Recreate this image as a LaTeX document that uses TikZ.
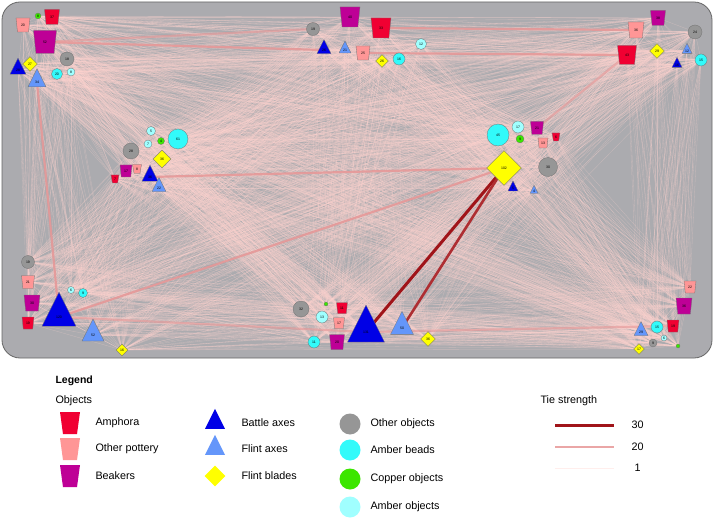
\documentclass[tikz,border=0pt]{standalone}
\usepackage{fontspec}
\setmainfont{Liberation Sans}
\usetikzlibrary{shapes.geometric}
\pgfdeclarelayer{panel}
\pgfdeclarelayer{ties}
\pgfsetlayers{panel,ties,main}

\definecolor{amphc}{RGB}{240,0,50}
\definecolor{potc}{RGB}{255,150,150}
\definecolor{beakc}{RGB}{190,0,150}
\definecolor{baxc}{RGB}{0,0,230}
\definecolor{faxc}{RGB}{100,150,250}
\definecolor{bladc}{RGB}{255,255,0}
\definecolor{othc}{RGB}{150,150,150}
\definecolor{beadc}{RGB}{50,250,250}
\definecolor{copc}{RGB}{60,230,0}
\definecolor{ambc}{RGB}{160,255,255}
\definecolor{panelc}{RGB}{171,171,175}
\definecolor{tiec}{RGB}{255,212,208}
\definecolor{midtie}{RGB}{230,150,150}
\definecolor{toptie}{RGB}{160,20,25}

\begin{document}
\begin{tikzpicture}[x=1pt, y=-1pt,
    obj/.style={draw=black!55, line width=0.3pt, inner sep=0pt, font=\fontsize{3.5}{4}\selectfont},
    vessel/.style={obj, trapezium, trapezium stretches=true, shape border rotate=180,
        trapezium angle=78, minimum width=#1, minimum height=#1},
    axe/.style={obj, isosceles triangle, isosceles triangle stretches, shape border rotate=90,
        minimum width=#1, minimum height=#1},
    amph/.style={vessel=#1, fill=amphc},
    opot/.style={vessel=#1, fill=potc},
    beak/.style={vessel=#1, fill=beakc},
    bax/.style={axe=#1, fill=baxc},
    fax/.style={axe=#1, fill=faxc},
    blade/.style={obj, diamond, fill=bladc, minimum width=#1, minimum height=#1},
    oth/.style={obj, circle, fill=othc, minimum size=#1},
    bead/.style={obj, circle, fill=beadc, minimum size=#1},
    copp/.style={obj, circle, fill=copc, minimum size=#1},
    amb/.style={obj, circle, fill=ambc, minimum size=#1},
    tie/.style={draw=tiec, line width=0.3pt, opacity=0.36},
    midtie/.style={draw=midtie, line width=2.2pt, opacity=0.85},
    toptie/.style={draw=toptie, line width=3pt},
    key/.style={draw=none, inner sep=1pt},
    lab/.style={anchor=west, font=\fontsize{10.8}{12}\selectfont}]

    \useasboundingbox (0,0) rectangle (714,521);

    % 1. Khung nen
    \begin{pgfonlayer}{panel}
        \draw[fill=panelc, draw=black!60, line width=0.8pt, rounded corners=18pt] (2,2) rectangle (712,358);
    \end{pgfonlayer}

    % 2. Cum tren trai
    \node[copp=6] (co1) at (38,16) {8};
    \node[opot=14] (op1) at (23,25) {20};
    \node[amph=15] (am1) at (52,17) {37};
    \node[beak=23] (bk1) at (45,42) {52};
    \node[oth=14] (oo1) at (67,59) {18};
    \node[blade=15] (fb1) at (30,64) {27};
    \node[bax=16] (ba1) at (18,70) {28};
    \node[fax=18] (fa1) at (37,82) {34};
    \node[bead=11] (ab1) at (57,74) {20};
    \node[amb=8] (ao1) at (71,72) {8};

    % Cum giua trai
    \node[amb=9] (ao2) at (151,131) {5};
    \node[amb=8] (ao3) at (148,144) {7};
    \node[copp=7] (co2) at (161,141) {4};
    \node[bead=20] (ab2) at (178,139) {61};
    \node[oth=16] (oo2) at (131,151) {28};
    \node[blade=18] (fb2) at (162,159) {36};
    \node[beak=12] (bk2) at (126,171) {17};
    \node[opot=9] (op2) at (137,169) {8};
    \node[amph=8] (am2) at (115,179) {7};
    \node[bax=16] (ba2) at (150,177) {36};
    \node[fax=14] (fa2) at (159,188) {22};

    % Cum tren giua
    \node[oth=13] (oo3) at (313,29) {19};
    \node[beak=20] (bk3) at (350,17) {40};
    \node[amph=20] (am3) at (381,28) {33};
    \node[bax=14] (ba3) at (324,50) {26};
    \node[fax=12] (fa3) at (345,50) {21};
    \node[opot=14] (op3) at (363,53) {25};
    \node[blade=13] (fb3) at (382,61) {26};
    \node[bead=12] (ab3) at (399,59) {16};
    \node[amb=11] (ao4) at (421,44) {12};

    % Cum tren phai
    \node[beak=15] (bk4) at (658,18) {38};
    \node[opot=16] (op4) at (636,30) {36};
    \node[amph=19] (am4) at (627,55) {43};
    \node[blade=15] (fb4) at (657,51) {29};
    \node[oth=14] (oo4) at (695,32) {24};
    \node[fax=10] (fa4) at (687,51) {12};
    \node[bax=10] (ba4) at (677,65) {16};
    \node[bead=12] (ab4) at (701,60) {15};

    % Cum giua phai
    \node[bead=22] (ab5) at (498,135) {45};
    \node[amb=12] (ao5) at (518,127) {17};
    \node[copp=8] (co3) at (520,139) {9};
    \node[beak=13] (bk5) at (537,128) {21};
    \node[opot=10] (op5) at (543,143) {13};
    \node[amph=8] (am5) at (556,137) {6};
    \node[blade=35] (fb5) at (504,168) {102};
    \node[oth=19] (oo5) at (548,167) {30};
    \node[bax=10] (ba5) at (513,188) {5};
    \node[fax=8] (fa5) at (534,191) {4};

    % Cum duoi trai
    \node[oth=13] (oo6) at (28,262) {19};
    \node[opot=13] (op6) at (28,282) {21};
    \node[beak=16] (bk6) at (32,303) {30};
    \node[amph=12] (am6) at (28,323) {19};
    \node[amb=7] (ao6) at (71,290) {6};
    \node[bead=9] (ab6) at (83,293) {9};
    \node[bax=34] (ba6) at (59,317) {120};
    \node[fax=22] (fa6) at (93,335) {52};
    \node[blade=12] (fb6) at (122,350) {16};

    % Cum duoi giua
    \node[oth=16] (oo7) at (301,309) {32};
    \node[copp=4] (co4) at (326,304) {};
    \node[amb=12] (ao7) at (322,317) {13};
    \node[amph=11] (am7) at (342,308) {11};
    \node[opot=11] (op7) at (339,323) {17};
    \node[bead=12] (ab7) at (314,342) {11};
    \node[beak=15] (bk7) at (337,342) {20};
    \node[bax=37] (ba7) at (366,332) {131};
    \node[fax=23] (fa7) at (402,328) {50};
    \node[blade=15] (fb7) at (428,339) {36};

    % Cum duoi phai
    \node[opot=12] (op8) at (690,287) {22};
    \node[beak=16] (bk8) at (684,306) {36};
    \node[amph=12] (am8) at (673,326) {19};
    \node[bead=12] (ab8) at (657,327) {15};
    \node[fax=14] (fa8) at (641,332) {29};
    \node[amb=6] (ao8) at (664,338) {6};
    \node[oth=8] (oo8) at (653,343) {9};
    \node[blade=11] (fb8) at (639,349) {17};
    \node[copp=4] (co5) at (678,346) {};

    % 3. Cac lien ket
    \def\objlist{co1,op1,am1,bk1,oo1,fb1,ba1,fa1,ab1,ao1,
        ao2,ao3,co2,ab2,oo2,fb2,bk2,op2,am2,ba2,fa2,
        oo3,bk3,am3,ba3,fa3,op3,fb3,ab3,ao4,
        bk4,op4,am4,fb4,oo4,fa4,ba4,ab4,
        ab5,ao5,co3,bk5,op5,am5,fb5,oo5,ba5,fa5,
        oo6,op6,bk6,am6,ao6,ab6,ba6,fa6,fb6,
        oo7,co4,ao7,am7,op7,ab7,bk7,ba7,fa7,fb7,
        op8,bk8,am8,ab8,fa8,ao8,oo8,fb8,co5}
    \begin{pgfonlayer}{ties}
        \foreach \a [count=\i] in \objlist {
            \foreach \b [count=\j] in \objlist {
                \ifnum\j>\i \draw[tie] (\a.center) -- (\b.center); \fi
            }
        }
        % lien ket manh
        \draw[midtie] (fa1.center) -- (ba6.center);
        \draw[midtie] (ba6.center) -- (fb5.center);
        \draw[midtie] (ba2.center) -- (fb5.center);
        \draw[midtie] (bk1.center) -- (ba3.center);
        \draw[midtie, opacity=0.6] (bk1.center) -- (oo3.center);
        \draw[midtie] (am3.center) -- (op4.center);
        \draw[midtie] (op3.center) -- (am4.center);
        \draw[midtie, opacity=0.6] (am4.center) -- (bk5.center);
        \draw[midtie, opacity=0.6] (ba6.center) -- (ba7.center);
        \draw[midtie, opacity=0.6] (ba7.center) -- (am8.center);
        \draw[toptie] (fb5.center) -- (ba7.center);
        \draw[toptie, draw=toptie!80!midtie, line width=2.6pt] (fb5.center) -- (fa7.center);
    \end{pgfonlayer}

    % 4. Chu giai
    \node[anchor=west, font=\bfseries\fontsize{10.5}{12}\selectfont] (legtitle) at (52,381) {Legend};
    \node[lab] (objtitle) at (52,401) {Objects};

    \node[amph=20, key, minimum height=22pt] (kam) at (70,423) {};
    \node[opot=20, key, minimum height=22pt] (kop) at (70,449) {};
    \node[beak=20, key, minimum height=22pt] (kbk) at (70,476) {};
    \node[lab] at (92,423) {Amphora};
    \node[lab] at (92,449) {Other pottery};
    \node[lab] at (92,476) {Beakers};

    \node[bax=20, key] (kba) at (215,423) {};
    \node[fax=20, key] (kfa) at (215,449) {};
    \node[blade=21, key] (kfb) at (215,476) {};
    \node[lab] at (238,423) {Battle axes};
    \node[lab] at (238,449) {Flint axes};
    \node[lab] at (238,476) {Flint blades};

    \node[oth=21, key] (koo) at (350,424) {};
    \node[bead=21, key] (kab) at (350,450) {};
    \node[copp=21, key] (kco) at (350,479) {};
    \node[amb=21, key] (kao) at (350,507) {};
    \node[lab] at (367,424) {Other objects};
    \node[lab] at (367,450) {Amber beads};
    \node[lab] at (367,479) {Copper objects};
    \node[lab] at (367,507) {Amber objects};

    \node[lab] (tietitle) at (537,401) {Tie strength};
    \draw[toptie] (555,425) -- (614,425);
    \draw[draw=midtie!85!white, line width=2.5pt] (555,447) -- (614,447);
    \draw[draw=tiec!40!white, line width=0.4pt] (555,468) -- (614,468);
    \node[lab] at (628,425) {30};
    \node[lab] at (628,447) {20};
    \node[lab] at (631,468) {1};
\end{tikzpicture}
\end{document}
